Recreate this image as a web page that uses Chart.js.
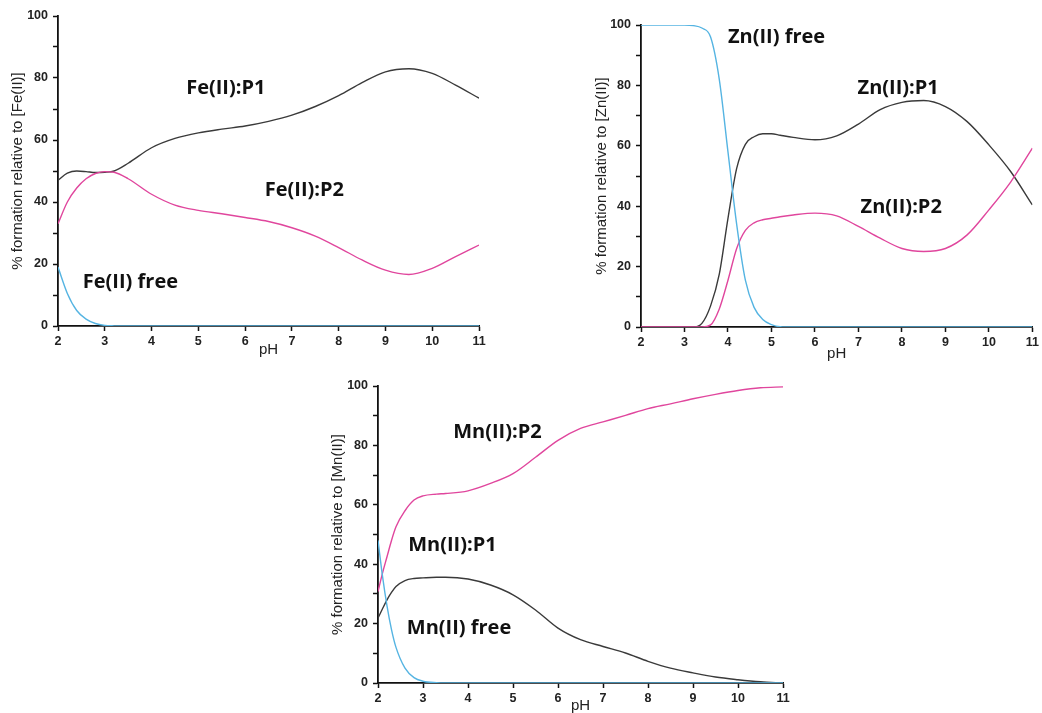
<!DOCTYPE html>
<html>
<head>
<meta charset="utf-8">
<script src="https://cdn.jsdelivr.net/npm/chart.js@4.4.1/dist/chart.umd.min.js"></script>
<style>
  body { margin: 0; background: #fff; width: 1042px; height: 713px; overflow: hidden; position: relative; }
  canvas { position: absolute; }
</style>
</head>
<body>
<canvas id="feChart" width="492" height="362" style="left:0;top:0"></canvas>
<canvas id="znChart" width="462" height="362" style="left:580px;top:0"></canvas>
<canvas id="mnChart" width="480" height="345" style="left:320px;top:368px"></canvas>
<script>
// --- Fe(II) ---
const fePH   = [2, 2.2, 2.4, 2.6, 2.8, 3, 3.2, 3.5, 4, 4.5, 5, 5.5, 6, 6.5, 7, 7.5, 8, 8.5, 9, 9.5, 10, 10.5, 11];
const feP1   = [47, 49.3, 50, 49.8, 49.5, 49.6, 50, 52.5, 57.5, 60.5, 62.3, 63.5, 64.5, 66, 68, 70.8, 74.3, 78.5, 82, 83, 81.5, 77.7, 73.5];
const feP2   = [33, 40, 44.5, 47.5, 49.2, 49.8, 49.6, 47.5, 42.5, 39, 37.3, 36.2, 35, 33.7, 31.7, 29, 25.3, 21.3, 18, 16.6, 18.6, 22.4, 26.1];
const feFree = [19, 10.5, 5, 2.2, 0.8, 0.2, 0.05, 0, 0, 0, 0, 0, 0, 0, 0, 0, 0, 0, 0, 0, 0, 0, 0];

// --- Zn(II) ---
const znPH   = [2, 2.5, 3, 3.2, 3.4, 3.6, 3.8, 4, 4.2, 4.4, 4.6, 4.8, 5, 5.2, 5.5, 6, 6.5, 7, 7.5, 8, 8.5, 9, 9.5, 10, 10.5, 11];
const znFree = [100, 100, 100, 99.8, 99, 96, 82, 58, 34, 15.5, 6.5, 2.5, 0.8, 0.1, 0, 0, 0, 0, 0, 0, 0, 0, 0, 0, 0, 0];
const znP1   = [0, 0, 0, 0, 1.2, 7, 17.5, 36, 52.5, 60.5, 63, 64, 64, 63.5, 62.8, 62, 63.3, 67.2, 72, 74.4, 75, 73, 68, 60.3, 51.5, 40.4];
const znP2   = [0, 0, 0, 0, 0, 0.7, 6, 15.5, 26, 32, 34.5, 35.5, 36, 36.5, 37.1, 37.7, 36.8, 33.3, 29.4, 26, 25, 26, 30.5, 38.8, 48, 59.2];

// --- Mn(II) ---
const mnPH   = [2, 2.1, 2.2, 2.3, 2.4, 2.6, 2.8, 3, 3.3, 3.5, 4, 4.5, 5, 5.5, 6, 6.5, 7, 7.5, 8, 8.5, 9, 9.5, 10, 10.5, 11];
const mnP2   = [30.8, 37, 42.5, 48, 52.6, 58, 61.6, 63, 63.6, 63.8, 64.7, 67.2, 70.5, 76, 81.7, 85.7, 87.9, 90.1, 92.4, 94, 95.7, 97.2, 98.5, 99.4, 99.7];
const mnP1   = [21.8, 25, 28, 30.5, 32.5, 34.5, 35.2, 35.4, 35.6, 35.6, 35, 33, 29.7, 24.6, 18.5, 14.6, 12.3, 10.1, 7.3, 5, 3.4, 2, 1.1, 0.4, 0];
const mnFree = [48, 36, 26, 18, 12, 5, 1.8, 0.6, 0.1, 0, 0, 0, 0, 0, 0, 0, 0, 0, 0, 0, 0, 0, 0, 0, 0];

// --- Подписи кривых (в координатах pH / %) ---
const feNotes = [
    { text: 'Fe(II):P1', x: 4.74, y: 76.8 },
    { text: 'Fe(II):P2', x: 6.42, y: 43.9 },
    { text: 'Fe(II) free', x: 2.53, y: 14.2 }
];
const znNotes = [
    { text: 'Zn(II) free', x: 4.0, y: 96 },
    { text: 'Zn(II):P1', x: 6.98, y: 79.1 },
    { text: 'Zn(II):P2', x: 7.05, y: 39.7 }
];
const mnNotes = [
    { text: 'Mn(II):P2', x: 3.67, y: 84.5 },
    { text: 'Mn(II):P1', x: 2.67, y: 46.5 },
    { text: 'Mn(II) free', x: 2.64, y: 18.5 }
];

const BLACK = '#3a3a3a';
const PINK = '#e0469d';
const BLUE = '#55b4e2';
const AXIS = '#111';

function toPoints(xs, ys) {
    return xs.map((x, i) => ({ x: x, y: ys[i] }));
}

const notesPlugin = {
    id: 'notes',
    afterDatasetsDraw(chart, args, opts) {
        const ctx = chart.ctx;
        const xs = chart.scales.x, ys = chart.scales.y;
        ctx.save();
        ctx.font = 'bold 20px "Open Sans"';
        ctx.fillStyle = '#111';
        ctx.textBaseline = 'middle';
        ctx.textAlign = 'left';
        (opts.items || []).forEach(n => {
            ctx.fillText(n.text, xs.getPixelForValue(n.x), ys.getPixelForValue(n.y));
        });
        ctx.restore();
    }
};

function line(data, color) {
    return {
        data: data, borderColor: color, borderWidth: 1.4, pointRadius: 0,
        fill: false, cubicInterpolationMode: 'monotone'
    };
}

function makeChart(id, o) {
    const tickFont = { family: '"Liberation Sans", Arial', size: 12.5, weight: 'bold' };
    const titleFont = { family: '"Liberation Sans", Arial', size: 15, lineHeight: 1 };
    new Chart(document.getElementById(id), {
        type: 'line',
        data: { datasets: o.datasets },
        options: {
            responsive: false,
            animation: false,
            layout: { padding: { top: o.padTop, right: o.padRight, left: 0, bottom: 0 } },
            plugins: { legend: { display: false }, tooltip: { enabled: false }, notes: { items: o.notes } },
            scales: {
                x: {
                    type: 'linear', min: 2, max: 11,
                    ticks: { stepSize: 1, color: '#222', font: tickFont, padding: 3, maxRotation: 0 },
                    grid: { drawOnChartArea: false, drawTicks: true, tickLength: 5, color: AXIS, tickWidth: 1.5 },
                    border: { color: AXIS, width: 1.8 },
                    title: { display: true, text: 'pH', color: '#222', font: titleFont, padding: { top: 0, bottom: o.xTitlePad } },
                    afterFit: s => { s.height = o.xHeight; }
                },
                y: {
                    min: 0, max: 100,
                    ticks: { stepSize: 10, color: '#222', font: tickFont, padding: 5,
                        callback: v => (v % 20 === 0 ? v : '') },
                    grid: { drawOnChartArea: false, drawTicks: true, tickLength: 5, color: AXIS, tickWidth: 1.5 },
                    border: { color: AXIS, width: 1.8 },
                    title: { display: true, text: o.yTitle, color: '#222', font: titleFont, padding: { top: o.yTitlePad, bottom: 0 } },
                    afterFit: s => { s.width = o.yWidth; }
                }
            }
        },
        plugins: [notesPlugin]
    });
}

makeChart('feChart', {
    datasets: [line(toPoints(fePH, feFree), BLUE), line(toPoints(fePH, feP2), PINK), line(toPoints(fePH, feP1), BLACK)],
    notes: feNotes, yTitle: '% formation relative to [Fe(II)]',
    padTop: 16, padRight: 13, xHeight: 36, yWidth: 58, xTitlePad: 5, yTitlePad: 10
});

makeChart('znChart', {
    datasets: [line(toPoints(znPH, znFree), BLUE), line(toPoints(znPH, znP2), PINK), line(toPoints(znPH, znP1), BLACK)],
    notes: znNotes, yTitle: '% formation relative to [Zn(II)]',
    padTop: 25, padRight: 9, xHeight: 35, yWidth: 61, xTitlePad: 1, yTitlePad: 14
});

makeChart('mnChart', {
    datasets: [line(toPoints(mnPH, mnFree), BLUE), line(toPoints(mnPH, mnP1), BLACK), line(toPoints(mnPH, mnP2), PINK)],
    notes: mnNotes, yTitle: '% formation relative to [Mn(II)]',
    padTop: 18, padRight: 17, xHeight: 30, yWidth: 58, xTitlePad: 0, yTitlePad: 10
});
</script>
</body>
</html>
